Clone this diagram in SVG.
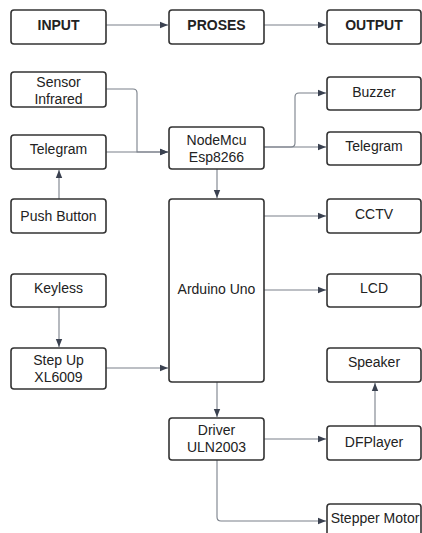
<svg xmlns="http://www.w3.org/2000/svg" width="422" height="533" viewBox="0 0 422 533">
<style>
.box{fill:#fff;stroke:#333;stroke-width:1.6}
.t{font-family:"Liberation Sans",Arial,sans-serif;font-size:14px;fill:#222;text-anchor:middle}
.b{font-weight:bold}
.c{fill:none;stroke:#7a808a;stroke-width:1.1}
</style>
<defs>
<marker id="ah" viewBox="0 0 10 10" refX="10" refY="5" markerWidth="8" markerHeight="8" markerUnits="userSpaceOnUse" orient="auto">
<path d="M0,1 L10,5 L0,9 Z" fill="#3a4150"/>
</marker>
</defs>
<rect width="422" height="533" fill="#fff"/>
<g id="connectors">
<path class="c" d="M106,25 H168" marker-end="url(#ah)"/>
<path class="c" d="M264,25 H326" marker-end="url(#ah)"/>
<path class="c" d="M106,89 H133 Q137,89 137,93 V152 H168" marker-end="url(#ah)"/>
<path class="c" d="M106,152 H168" marker-end="url(#ah)"/>
<path class="c" d="M264,147 H291 Q295,147 295,143 V97 Q295,93 299,93 H326" marker-end="url(#ah)"/>
<path class="c" d="M264,147 H326" marker-end="url(#ah)"/>
<path class="c" d="M59,199 V170" marker-end="url(#ah)"/>
<path class="c" d="M217,169 V198" marker-end="url(#ah)"/>
<path class="c" d="M264,216 H326" marker-end="url(#ah)"/>
<path class="c" d="M264,290 H326" marker-end="url(#ah)"/>
<path class="c" d="M59,307 V347" marker-end="url(#ah)"/>
<path class="c" d="M106,368 H168" marker-end="url(#ah)"/>
<path class="c" d="M217,382 V417" marker-end="url(#ah)"/>
<path class="c" d="M264,439 H326" marker-end="url(#ah)"/>
<path class="c" d="M375,426 V383" marker-end="url(#ah)"/>
<path class="c" d="M217,460 V517 Q217,521 221,521 H326" marker-end="url(#ah)"/>
</g>
<g id="input"><rect class="box" x="11" y="10" width="95" height="34" rx="3"/><text class="t b" x="58.5" y="30">INPUT</text></g>
<g id="proses"><rect class="box" x="169" y="10" width="95" height="34" rx="3"/><text class="t b" x="216.5" y="30">PROSES</text></g>
<g id="output"><rect class="box" x="327" y="10" width="94" height="34" rx="3"/><text class="t b" x="374" y="30">OUTPUT</text></g>
<g id="sensor"><rect class="box" x="11" y="72" width="95" height="35" rx="3"/><text class="t" x="58.5" y="87">Sensor</text><text class="t" x="58.5" y="104">Infrared</text></g>
<g id="telegram-in"><rect class="box" x="11" y="135" width="95" height="34" rx="3"/><text class="t" x="58.5" y="154">Telegram</text></g>
<g id="pushbutton"><rect class="box" x="11" y="199" width="95" height="34" rx="3"/><text class="t" x="58.5" y="221">Push Button</text></g>
<g id="keyless"><rect class="box" x="11" y="274" width="95" height="33" rx="3"/><text class="t" x="58.5" y="293">Keyless</text></g>
<g id="stepup"><rect class="box" x="11" y="348" width="95" height="41" rx="3"/><text class="t" x="58.5" y="365">Step Up</text><text class="t" x="58.5" y="382">XL6009</text></g>
<g id="nodemcu"><rect class="box" x="169" y="127" width="95" height="42" rx="3"/><text class="t" x="216.5" y="145">NodeMcu</text><text class="t" x="216.5" y="162">Esp8266</text></g>
<g id="arduino"><rect class="box" x="169" y="199" width="95" height="183" rx="3"/><text class="t" x="216.5" y="294">Arduino Uno</text></g>
<g id="driver"><rect class="box" x="169" y="418" width="95" height="42" rx="3"/><text class="t" x="216.5" y="435">Driver</text><text class="t" x="216.5" y="452">ULN2003</text></g>
<g id="buzzer"><rect class="box" x="327" y="77" width="94" height="33" rx="3"/><text class="t" x="374" y="97">Buzzer</text></g>
<g id="telegram-out"><rect class="box" x="327" y="132" width="94" height="33" rx="3"/><text class="t" x="374" y="151">Telegram</text></g>
<g id="cctv"><rect class="box" x="327" y="199" width="94" height="34" rx="3"/><text class="t" x="374" y="219">CCTV</text></g>
<g id="lcd"><rect class="box" x="327" y="274" width="94" height="33" rx="3"/><text class="t" x="374" y="293">LCD</text></g>
<g id="speaker"><rect class="box" x="327" y="348" width="94" height="34" rx="3"/><text class="t" x="374" y="367">Speaker</text></g>
<g id="dfplayer"><rect class="box" x="327" y="426" width="94" height="34" rx="3"/><text class="t" x="374" y="447">DFPlayer</text></g>
<g id="stepper"><rect class="box" x="327" y="504" width="94" height="40" rx="3"/><text class="t" x="375" y="523">Stepper Motor</text></g>
</svg>
